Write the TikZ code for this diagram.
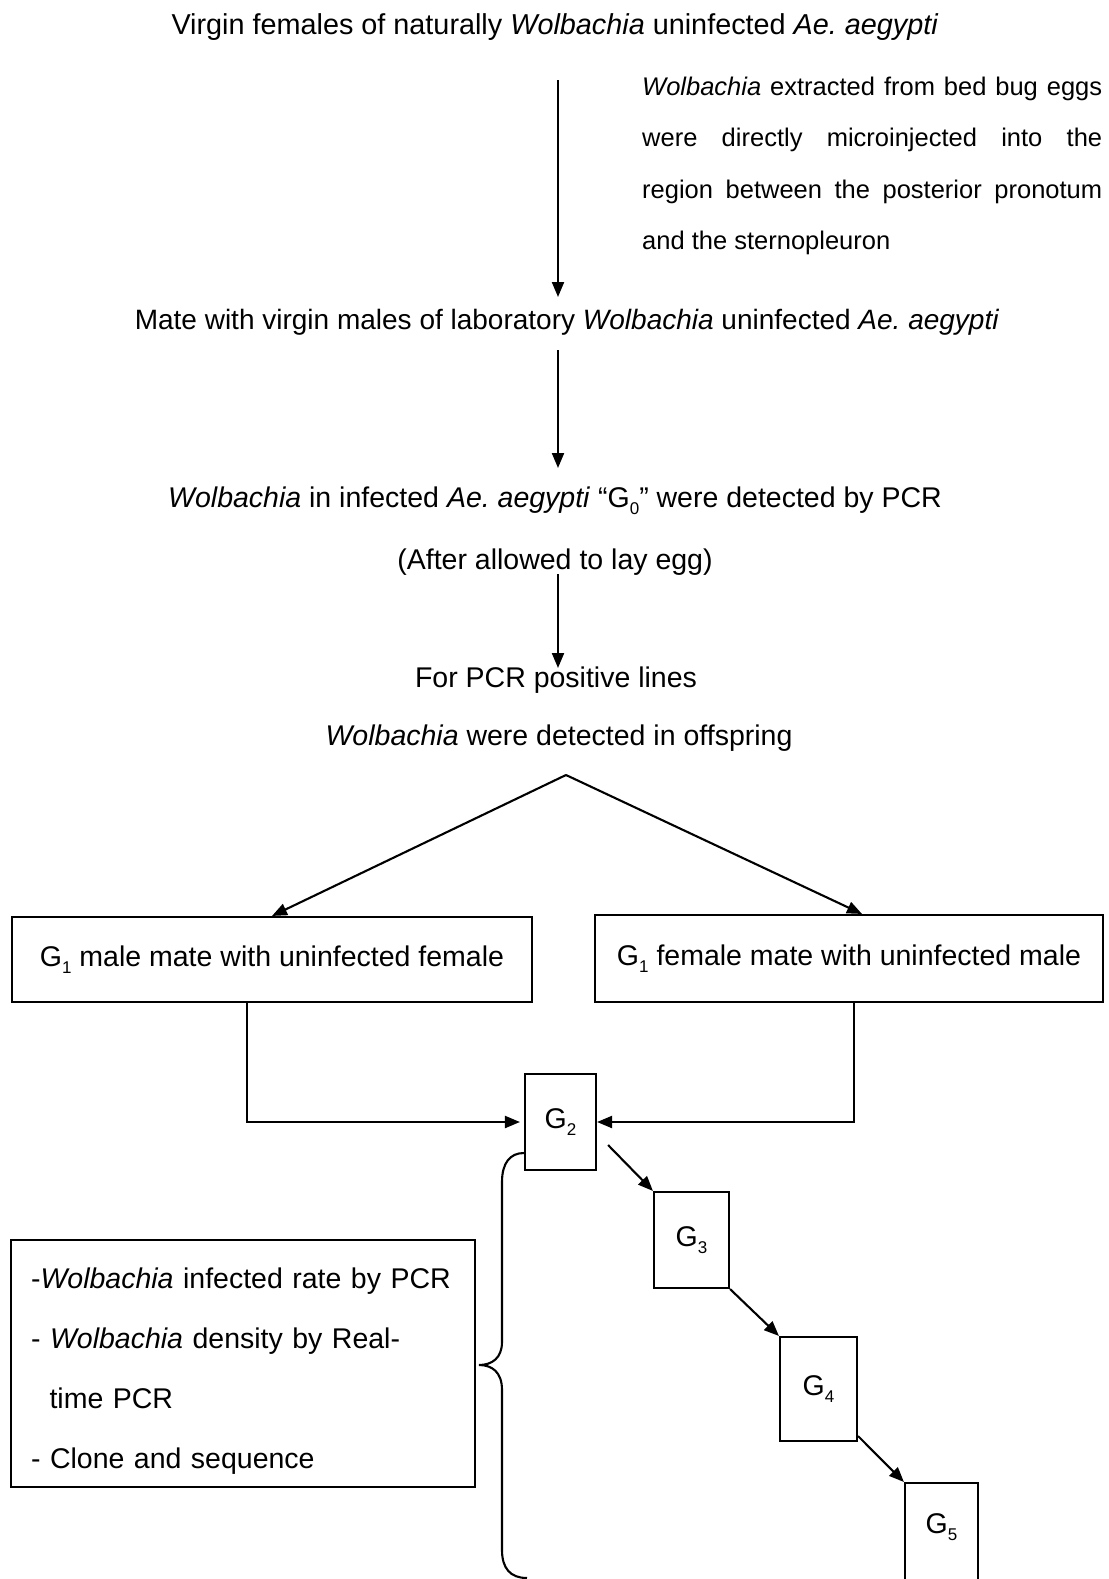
\documentclass[tikz,border=0pt]{standalone}
\usepackage{fontspec}
\setmainfont{Liberation Sans}
\usetikzlibrary{arrows.meta,calc}
\frenchspacing
\newcommand\gsub[1]{\raisebox{-7pt}{\fontsize{17}{17}\selectfont #1}}
\begin{document}
\begin{tikzpicture}[x=1pt,y=-1pt,
  txt/.style={inner sep=0pt,font=\fontsize{28.5}{34}\selectfont},
  arr/.style={line width=2.1pt,-{Triangle[length=15pt,width=12pt]}},
  plain/.style={line width=2.1pt},
  bx/.style={draw,line width=2.1pt,inner sep=0pt,font=\fontsize{28.5}{34}\selectfont},
  gbox/.style={bx,minimum height=96pt}]
\useasboundingbox (0,0) rectangle (1108,1579);
\coordinate (ax) at (558,0);

% top texts
\node[txt,anchor=base,font=\fontsize{28.8}{34}\selectfont] (title) at (555,35) {Virgin females of naturally \textit{Wolbachia} uninfected \textit{Ae. aegypti}};
\node[inner sep=0pt,anchor=north west,text width=460pt,align=justify,font=\fontsize{25.5}{51.5}\selectfont] (inj) at (642,70)
  {\rule{0pt}{25pt}\textit{Wolbachia} extracted from bed bug eggs\linebreak were directly microinjected into the\linebreak region between the posterior pronotum\linebreak and the sternopleuron};
\node[txt,anchor=base,font=\fontsize{28}{34}\selectfont] (mate) at (567,329) {Mate with virgin males of laboratory \textit{Wolbachia} uninfected \textit{Ae. aegypti}};
\node[txt,anchor=base] (wolbinf) at (555,507) {\textit{Wolbachia} in infected \textit{Ae. aegypti} “G\gsub{0}” were detected by PCR};
\node[txt,anchor=base] (after) at (555,569) {(After allowed to lay egg)};
\node[txt,anchor=base] (forpcr) at (556,687) {For PCR positive lines};
\node[txt,anchor=base] (offspring) at (559,745) {\textit{Wolbachia} were detected in offspring};

% vertical arrows
\draw[arr] ($(title.base -| ax)+(0,45)$) -- ($(mate.base -| ax)+(0,-32)$);
\draw[arr] ($(mate.base -| ax)+(0,21)$) -- ($(wolbinf.base -| ax)+(0,-39)$);
\draw[arr] ($(after.base -| ax)+(0,5)$) -- ($(forpcr.base -| ax)+(0,-19)$);

% split
\coordinate (apex) at ($(offspring.base)+(7,30)$);
\node[bx,minimum width=520pt,minimum height=85pt] (lbox) at (272,959.5) {G\gsub{1} male mate with uninfected female};
\node[bx,minimum width=508pt,minimum height=87pt] (rbox) at (849,958.5) {G\gsub{1} female mate with uninfected male};
\draw[arr] (apex) -- (lbox.north);
\draw[arr] (apex) -- ([xshift=13pt]rbox.north);

% generations
\node[gbox,minimum width=71pt] (g2) at (560.5,1122) {G\gsub{2}};
\node[gbox,minimum width=75pt] (g3) at (691.5,1240) {G\gsub{3}};
\node[gbox,minimum width=77pt,minimum height=104pt] (g4) at (818.5,1389) {G\gsub{4}};
\node[bx,minimum width=73pt,minimum height=110pt,text depth=30pt,anchor=north] (g5) at (941.5,1482) {G\gsub{5}};

\draw[arr,shorten >=4pt] ([xshift=-25pt]lbox.south) |- (g2.west);
\draw[arr] ([xshift=5pt]rbox.south) |- (g2.east);
\draw[arr] ([xshift=11pt,yshift=-23pt]g2.east) -- (g3.north west);
\draw[arr] (g3.south east) -- (g4.north west);
\draw[arr] ([yshift=6pt]g4.south east) -- (g5.north west);

% info box and brace
\node[draw,line width=2.1pt,anchor=north west,inner xsep=20pt,inner ysep=0pt,text width=424pt,align=left,
      minimum width=464pt,minimum height=247pt,font=\fontsize{28.5}{60}\selectfont] (info) at (10,1239)
  {\rule{0pt}{35pt}-\textit{Wolbachia} infected rate by PCR\\
   - \textit{Wolbachia} density by Real-\\
   \hspace*{18.5pt}time PCR\\
   - Clone and sequence};
\draw[plain] ([yshift=-31pt]g2.west) .. controls (510,1153) and (502,1163) .. (502,1182)
  -- (502,1342) .. controls (502,1358) and (492,1365) .. (479,1365)
  .. controls (492,1365) and (502,1372) .. (502,1390)
  -- (502,1550) .. controls (502,1568) and (510,1578) .. (527,1578);
\end{tikzpicture}
\end{document}
